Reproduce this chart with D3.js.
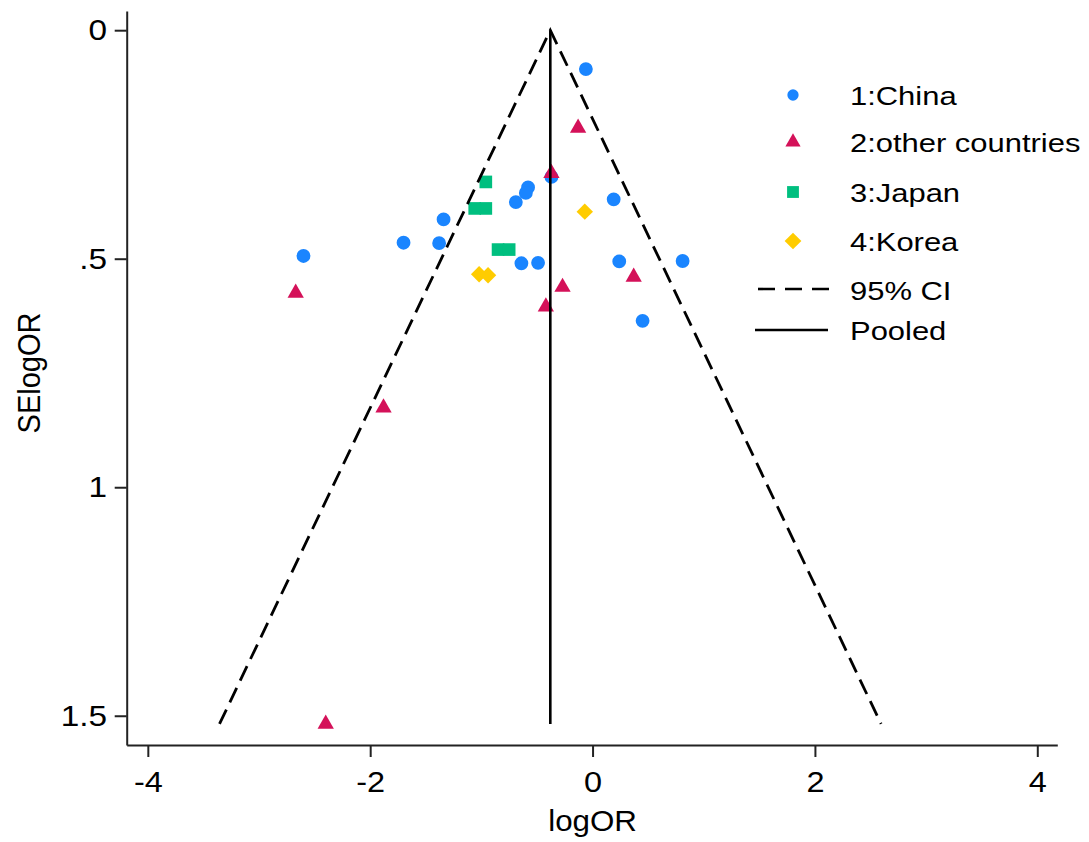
<!DOCTYPE html>
<html>
<head>
<meta charset="utf-8">
<script src="https://cdn.jsdelivr.net/npm/d3@7"></script>
<style>
  body { margin: 0; background: #fff; }
  text { font-family: "Liberation Sans", Arial, sans-serif; fill: #000; }
</style>
</head>
<body>
<div class="wrapper"></div>
<script>
// study estimates: logOR and its standard error
const chinaLogOR = [-0.06, -0.37, -0.58, -0.60, -0.69, 0.19, -1.34, -1.70, -1.38, -2.60, -0.64, -0.49, 0.24, 0.81, 0.45]
const chinaSE = [0.085, 0.321, 0.344, 0.356, 0.376, 0.370, 0.414, 0.465, 0.466, 0.494, 0.510, 0.509, 0.506, 0.505, 0.636]

const otherLogOR = [-0.13, -0.37, 0.37, -0.27, -0.42, -2.67, -1.88, -2.40]
const otherSE = [0.214, 0.313, 0.540, 0.562, 0.605, 0.575, 0.826, 1.518]

const japanLogOR = [-0.96, -1.06, -0.96, -0.85, -0.75]
const japanSE = [0.332, 0.390, 0.390, 0.480, 0.480]

const koreaLogOR = [-0.07, -1.02, -0.94]
const koreaSE = [0.397, 0.534, 0.536]

const pooledLogOR = -0.38

const groupNames = ['1:China', '2:other countries', '3:Japan', '4:Korea']
const lineNames = ['95% CI', 'Pooled']
const xTicks = [-4, -2, 0, 2, 4]
const xTickLabels = ['-4', '-2', '0', '2', '4']
const yTicks = [0, 0.5, 1, 1.5]
const yTickLabels = ['0', '.5', '1', '1.5']

const width = 1089, height = 842

const groups = [
  { name: groupNames[0], x: chinaLogOR, se: chinaSE, shape: d3.symbolCircle, size: 150, legendSize: 100, rot: 0, color: '#1a85ff' },
  { name: groupNames[1], x: otherLogOR, se: otherSE, shape: d3.symbolTriangle, size: 115, legendSize: 100, rot: 0, color: '#d41159' },
  { name: groupNames[2], x: japanLogOR, se: japanSE, shape: d3.symbolSquare, size: 160, legendSize: 140, rot: 0, color: '#00bf7f' },
  { name: groupNames[3], x: koreaLogOR, se: koreaSE, shape: d3.symbolSquare, size: 135, legendSize: 140, rot: 45, color: '#ffcc00' },
]

const x = d3.scaleLinear().domain([-4.19, 4.18]).range([126.7, 1057.3])
const y = d3.scaleLinear().domain([-0.042, 1.564]).range([11, 745])

const svg = d3.select('.wrapper')
  .append('svg')
  .attr('width', width)
  .attr('height', height)

// axes
const xAxis = svg.append('g')
  .attr('transform', `translate(0, ${y.range()[1]})`)
  .call(d3.axisBottom(x).tickValues(xTicks).tickSize(12).tickSizeOuter(0).tickPadding(14)
    .tickFormat((d, i) => xTickLabels[i]))

const yAxis = svg.append('g')
  .attr('transform', `translate(${x.range()[0]}, 0)`)
  .call(d3.axisLeft(y).tickValues(yTicks).tickSize(12).tickSizeOuter(0).tickPadding(5)
    .tickFormat((d, i) => yTickLabels[i]))

svg.selectAll('.domain, .tick line')
  .attr('stroke', '#222')
  .attr('stroke-width', 2)

xAxis.selectAll('text')
  .attr('font-size', '29px')
  .attr('transform', 'scale(1.12,1)')
yAxis.selectAll('text')
  .attr('font-size', '29px')
  .attr('transform', 'scale(1.15,1)')
svg.selectAll('.tick text').attr('fill', '#000').style('font-family', '"Liberation Sans", Arial, sans-serif')

// axis titles
svg.append('text')
  .attr('transform', `translate(${x(0)}, 831) scale(1.08,1)`)
  .attr('text-anchor', 'middle')
  .attr('font-size', '29px')
  .text('logOR')

svg.append('text')
  .attr('transform', `translate(40, ${y(0.75)}) rotate(-90) scale(1,1.05)`)
  .attr('text-anchor', 'middle')
  .attr('font-size', '29px')
  .text('SElogOR')

// markers
groups.forEach(g => {
  const sym = d3.symbol().type(g.shape).size(g.size)
  svg.append('g')
    .selectAll('path')
    .data(g.x.map((v, i) => ({ lor: v, se: g.se[i] })))
    .enter().append('path')
    .attr('d', sym)
    .attr('transform', d => `translate(${x(d.lor)}, ${y(d.se)}) rotate(${g.rot})`)
    .attr('fill', g.color)
})

// funnel and pooled line
const seMax = d3.max([].concat(chinaSE, otherSE, japanSE, koreaSE))
const line = d3.line().x(d => x(d[0])).y(d => y(d[1]))

svg.append('path')
  .attr('d', line([[pooledLogOR - 1.96 * seMax, seMax], [pooledLogOR, 0], [pooledLogOR + 1.96 * seMax, seMax]]))
  .attr('fill', 'none')
  .attr('stroke', '#000')
  .attr('stroke-width', 2.8)
  .attr('stroke-dasharray', '16,8')

svg.append('path')
  .attr('d', line([[pooledLogOR, 0], [pooledLogOR, seMax]]))
  .attr('fill', 'none')
  .attr('stroke', '#000')
  .attr('stroke-width', 2.6)

// legend
const legendRows = [95, 142, 192, 241]
const legend = svg.append('g')

groups.forEach((g, i) => {
  legend.append('path')
    .attr('d', d3.symbol().type(g.shape).size(g.legendSize))
    .attr('transform', `translate(793, ${legendRows[i]}) rotate(${g.rot})`)
    .attr('fill', g.color)
  legend.append('text')
    .attr('transform', `translate(850, ${legendRows[i] + 1}) scale(1.19,1)`)
    .attr('dy', '0.36em')
    .attr('font-size', '26px')
    .text(g.name)
})

legend.append('line')
  .attr('x1', 758).attr('x2', 829).attr('y1', 289).attr('y2', 289)
  .attr('stroke', '#000').attr('stroke-width', 2.6).attr('stroke-dasharray', '17,10')
legend.append('line')
  .attr('x1', 755).attr('x2', 828).attr('y1', 330).attr('y2', 330)
  .attr('stroke', '#000').attr('stroke-width', 2.6)

;[291, 331].forEach((yy, i) => {
  legend.append('text')
    .attr('transform', `translate(850, ${yy}) scale(1.19,1)`)
    .attr('dy', '0.36em')
    .attr('font-size', '26px')
    .text(lineNames[i])
})
</script>
</body>
</html>
